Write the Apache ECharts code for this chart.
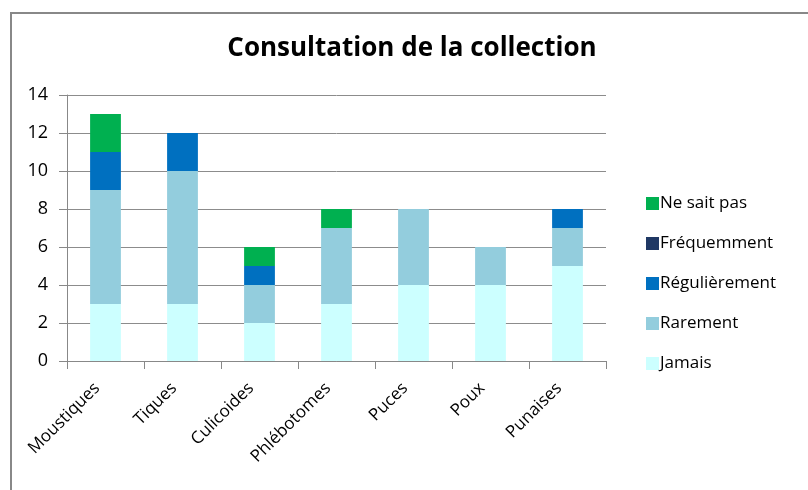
<!DOCTYPE html>
<html>
<head>
<meta charset="utf-8">
<script src="https://cdn.jsdelivr.net/npm/echarts@6/dist/echarts.min.js"></script>
<style>
  html, body { margin: 0; padding: 0; background: #fff; }
  #frame {
    position: absolute; left: 10px; top: 12px; width: 900px; height: 600px;
    border-left: 2px solid #888; border-top: 2px solid #888; box-sizing: border-box;
  }
  #chart { position: absolute; left: 0; top: 0; width: 808px; height: 490px; }
</style>
</head>
<body>
<div id="frame"></div>
<div id="chart"></div>
<script>
const categories = ['Moustiques', 'Tiques', 'Culicoides', 'Phlébotomes', 'Puces', 'Poux', 'Punaises'];
const jamais = [3, 3, 2, 3, 4, 4, 5];
const rarement = [6, 7, 2, 4, 4, 2, 2];
const regulierement = [2, 2, 1, 0, 0, 0, 1];
const frequemment = [0, 0, 0, 0, 0, 0, 0];
const neSaitPas = [2, 0, 1, 1, 0, 0, 0];
const yTicks = [0, 2, 4, 6, 8, 10, 12, 14];

const chartInstance = echarts.init(document.getElementById('chart'));

const mkSeries = (name, data, color) => ({
  name: name,
  type: 'bar',
  stack: 'total',
  data: data,
  barCategoryGap: '60%',
  itemStyle: { color: color },
  emphasis: { disabled: true }
});

const option = {
  animation: false,
  textStyle: { fontFamily: 'Open Sans' },
  title: {
    text: 'Consultation de la collection',
    left: 407,
    top: 31,
    textAlign: 'center',
    textStyle: { fontFamily: 'Open Sans', fontSize: 26, fontWeight: 'bold', color: '#000' }
  },
  grid: { left: 67, right: 202, top: 95, bottom: 129 },
  legend: {
    orient: 'vertical',
    left: 641,
    top: 190,
    itemWidth: 13,
    itemHeight: 13,
    itemGap: 23,
    icon: 'rect',
    textStyle: { fontSize: 17, color: '#000', padding: [0, 0, 0, -4] },
    data: ['Ne sait pas', 'Fréquemment', 'Régulièrement', 'Rarement', 'Jamais']
  },
  xAxis: {
    type: 'category',
    data: categories,
    axisLine: { lineStyle: { color: '#888', width: 1 } },
    axisTick: { show: true, length: 8, lineStyle: { color: '#888' } },
    axisLabel: { rotate: 45, fontSize: 17, color: '#000', margin: 16, padding: [0, 12, 0, 0], interval: 0 }
  },
  yAxis: {
    type: 'value',
    min: yTicks[0],
    max: yTicks[yTicks.length - 1],
    interval: 2,
    axisLine: { show: true, lineStyle: { color: '#888' } },
    axisTick: { show: true, length: 8, lineStyle: { color: '#888' } },
    axisLabel: { fontSize: 18, color: '#000', margin: 19 },
    splitLine: { lineStyle: { color: '#8c8c8c', width: 1 } }
  },
  series: [
    mkSeries('Jamais', jamais, '#CCFFFF'),
    mkSeries('Rarement', rarement, '#93CDDD'),
    mkSeries('Régulièrement', regulierement, '#0070C0'),
    mkSeries('Fréquemment', frequemment, '#1F3864'),
    mkSeries('Ne sait pas', neSaitPas, '#00B050')
  ]
};

chartInstance.setOption(option);
</script>
</body>
</html>
